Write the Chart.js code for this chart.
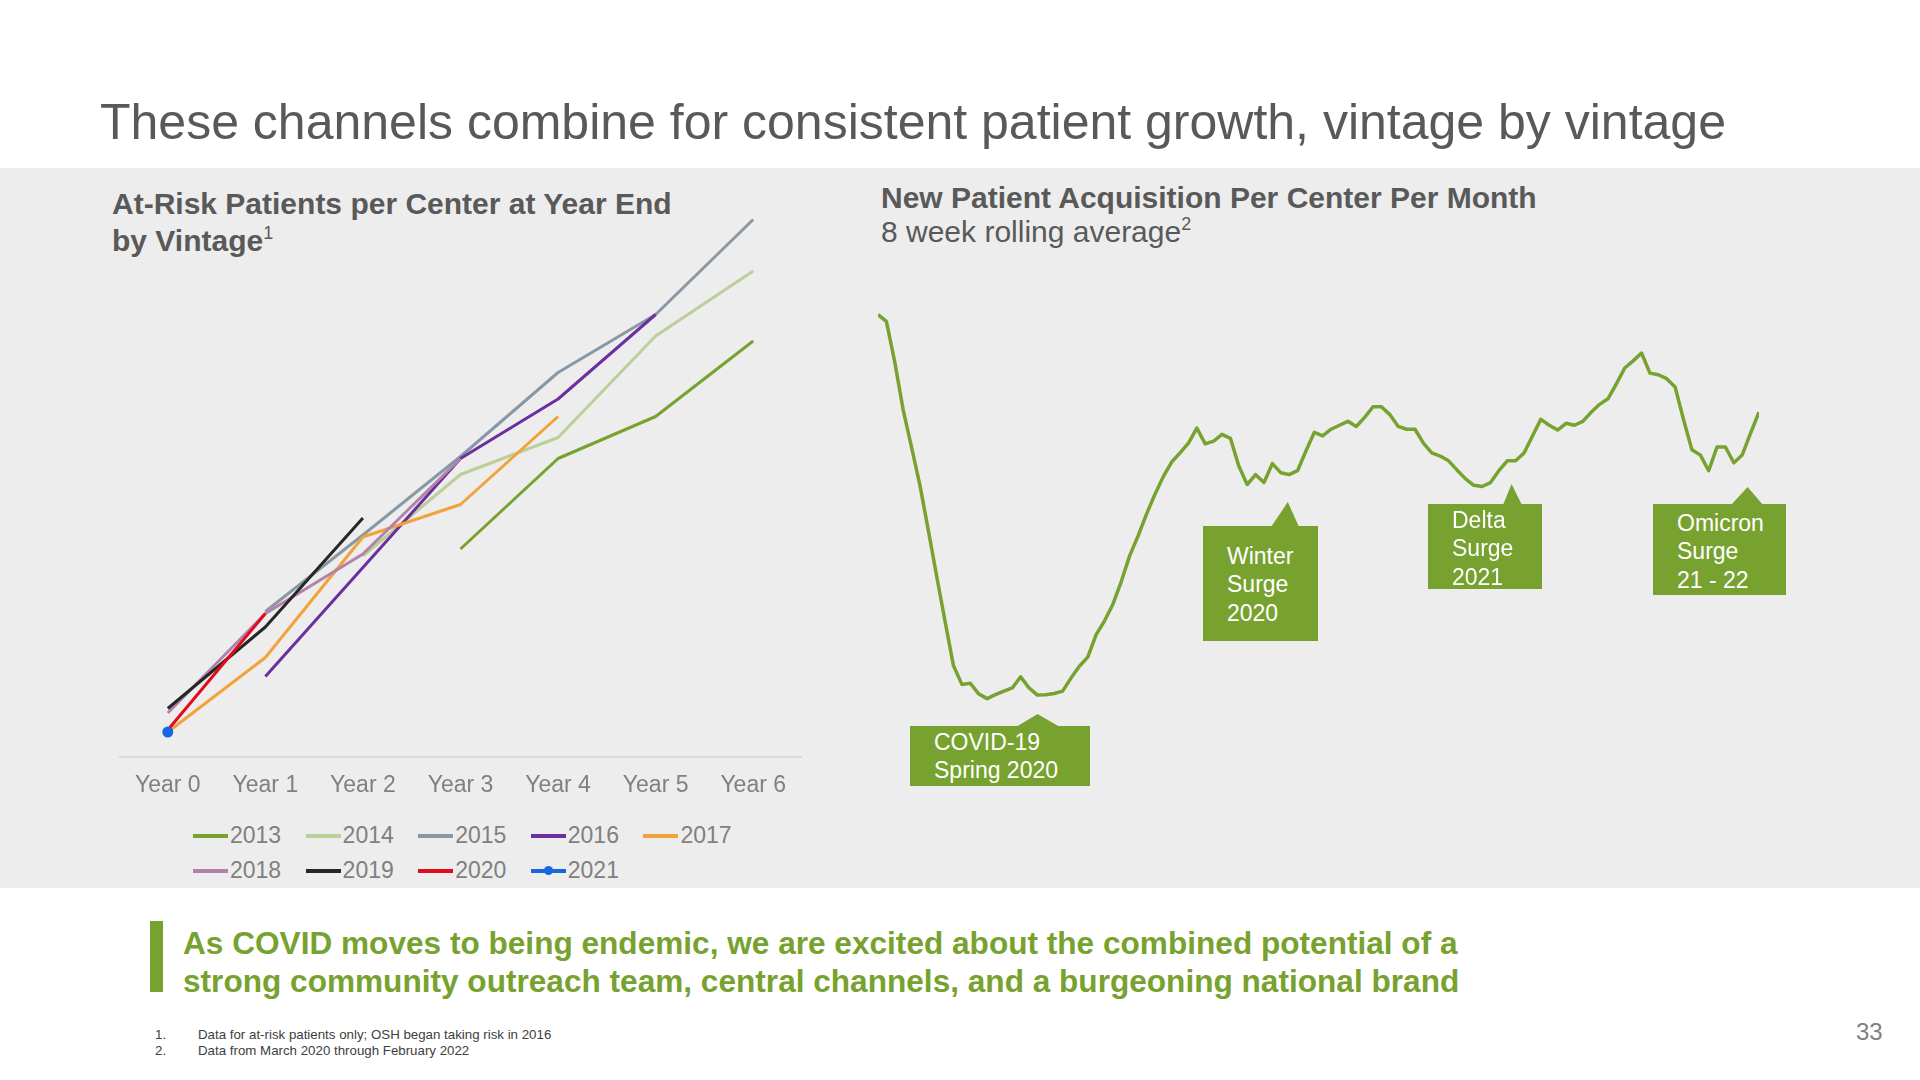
<!DOCTYPE html>
<html>
<head>
<meta charset="utf-8">
<script src="https://cdn.jsdelivr.net/npm/chart.js@4.4.1/dist/chart.umd.min.js"></script>
<style>
  body { margin: 0; width: 1920px; height: 1080px; background: #fff; position: relative; overflow: hidden;
         font-family: "Liberation Sans", Arial, sans-serif; }
  .abs { position: absolute; white-space: nowrap; }
  #band { left: 0; top: 168px; width: 1920px; height: 720px; background: #ededed; }
  #title { left: 100px; top: 92px; font-size: 50px; line-height: 60px; color: #595959; }
  .sub { font-size: 30px; color: #595959; }
  .sup { font-size: 18px; position: relative; top: -12px; font-weight: normal; }
  .call { background: #78a22f; }
  .callText { color: #fff; font-size: 23px; line-height: 28.3px; }
  .tri { background: #78a22f; }
  #legend { left: 193px; top: 818px; display: grid; grid-template-columns: repeat(5, 112.6px); }
  .item { height: 35px; line-height: 35px; display: flex; align-items: center; font-size: 23px; color: #808080; }
  .mark { width: 35px; height: 4px; margin-right: 2px; position: relative; }
  .dot { position: absolute; left: 13px; top: -2.5px; width: 9px; height: 9px; border-radius: 50%; }
  #bar { left: 150px; top: 921px; width: 13px; height: 71px; background: #78a22f; }
  #msg { left: 183px; top: 924px; font-size: 31.6px; line-height: 38px; font-weight: bold; color: #78a22f; }
  .foot { font-size: 13.3px; color: #404040; line-height: 16px; }
  #page { left: 1856px; top: 1017px; font-size: 24px; color: #808080; line-height: 30px; }
</style>
</head>
<body>
<div id="band" class="abs"></div>
<div id="title" class="abs">These channels combine for consistent patient growth, vintage by vintage</div>

<div class="abs sub" style="left:112px; top:186px; line-height:36.7px; font-weight:bold;">At-Risk Patients per Center at Year End<br>by Vintage<span class="sup">1</span></div>
<div class="abs sub" style="left:881px; top:181px; line-height:34.3px;"><b>New Patient Acquisition Per Center Per Month</b><br>8 week rolling average<span class="sup">2</span></div>

<canvas id="vintage" class="abs" width="683" height="650" style="left:119px; top:157px;"></canvas>
<div id="legend" class="abs"></div>

<canvas id="acq" class="abs" width="881" height="632" style="left:878px; top:210px;"></canvas>

<!-- callouts -->
<div class="abs tri" style="left:1016px; top:714px; width:44px; height:13px; clip-path: polygon(0 100%, 49% 0, 100% 100%);"></div>
<div class="abs call" style="left:910px; top:726px; width:180px; height:60px;"></div>
<div class="abs callText" style="left:934px; top:728px;">COVID-19<br>Spring 2020</div>

<div class="abs tri" style="left:1271px; top:502px; width:28px; height:25px; clip-path: polygon(0 100%, 60% 0, 100% 100%);"></div>
<div class="abs call" style="left:1203px; top:526px; width:115px; height:115px;"></div>
<div class="abs callText" style="left:1227px; top:542px;">Winter<br>Surge<br>2020</div>

<div class="abs tri" style="left:1503px; top:484px; width:19px; height:21px; clip-path: polygon(0 100%, 45% 0, 100% 100%);"></div>
<div class="abs call" style="left:1428px; top:504px; width:114px; height:85px;"></div>
<div class="abs callText" style="left:1452px; top:506px;">Delta<br>Surge<br>2021</div>

<div class="abs tri" style="left:1731px; top:487px; width:32px; height:18px; clip-path: polygon(0 100%, 52% 0, 100% 100%);"></div>
<div class="abs call" style="left:1653px; top:504px; width:133px; height:91px;"></div>
<div class="abs callText" style="left:1677px; top:509px;">Omicron<br>Surge<br>21 - 22</div>

<div id="bar" class="abs"></div>
<div id="msg" class="abs">As COVID moves to being endemic, we are excited about the combined potential of a<br>strong community outreach team, central channels, and a burgeoning national brand</div>

<div class="abs foot" style="left:155px; top:1027px;">1.</div>
<div class="abs foot" style="left:198px; top:1027px;">Data for at-risk patients only; OSH began taking risk in 2016</div>
<div class="abs foot" style="left:155px; top:1043px;">2.</div>
<div class="abs foot" style="left:198px; top:1043px;">Data from March 2020 through February 2022</div>
<div id="page" class="abs">33</div>

<script>
Chart.defaults.font.family = '"Liberation Sans", Arial, sans-serif';

// left chart: at-risk patients per center, by vintage
const years = ['Year 0', 'Year 1', 'Year 2', 'Year 3', 'Year 4', 'Year 5', 'Year 6'];
const vintages = ['2013', '2014', '2015', '2016', '2017', '2018', '2019', '2020', '2021'];
const vintageColors = ['#78a22f', '#bccf9b', '#8798a6', '#6b2fa0', '#f2a23a', '#b283aa', '#262626', '#e00b1c', '#1768e0'];
const v2013 = [null, null, null, 416, 597, 681, 832];
const v2014 = [null, null, 402, 565, 639, 842, 972];
const v2015 = [null, 291, 444, 601, 769, 885, 1075];
const v2016 = [null, 161, 379, 597, 716, 885, null];
const v2017 = [50, 199, 440, 505, 681, null, null];
const v2018 = [88, 287, 406, 597, null, null, null];
const v2019 = [97, 260, 478, null, null, null, null];
const v2020 = [54, 287, null, null, null, null, null];
const v2021 = [50, null, null, null, null, null, null];
const vintageValues = [v2013, v2014, v2015, v2016, v2017, v2018, v2019, v2020, v2021];

// right chart: new patients per center per month, 8 week rolling average (weekly, Mar 2020 - Feb 2022)
const acqValues = [13.35, 13.18, 12.15, 10.94, 9.99, 9.03, 7.89, 6.72, 5.58, 4.46, 3.99, 4.02, 3.75, 3.63, 3.73,
  3.82, 3.90, 4.18, 3.90, 3.72, 3.73, 3.76, 3.82, 4.15, 4.45, 4.68, 5.25, 5.60, 6.02, 6.60, 7.25, 7.75, 8.30,
  8.80, 9.25, 9.62, 9.85, 10.10, 10.48, 10.08, 10.15, 10.32, 10.22, 9.52, 9.05, 9.30, 9.10, 9.58, 9.35, 9.30,
  9.40, 9.90, 10.37, 10.28, 10.45, 10.55, 10.65, 10.52, 10.75, 11.02, 11.02, 10.82, 10.52, 10.45, 10.45, 10.10,
  9.85, 9.77, 9.65, 9.42, 9.20, 9.03, 9.00, 9.10, 9.40, 9.65, 9.65, 9.85, 10.28, 10.70, 10.55, 10.43, 10.60,
  10.55, 10.65, 10.88, 11.08, 11.22, 11.60, 12.00, 12.18, 12.38, 11.87, 11.83, 11.73, 11.52, 10.70, 9.93,
  9.80, 9.40, 10.00, 10.00, 9.60, 9.80, 10.35, 10.88];
const weekLabels = acqValues.map((v, i) => 'Week ' + (i + 1));

const vintageChart = new Chart(document.getElementById('vintage'), {
  type: 'line',
  data: {
    labels: years,
    datasets: vintages.map((name, i) => ({
      label: name,
      data: vintageValues[i],
      borderColor: vintageColors[i],
      backgroundColor: vintageColors[i],
      borderWidth: 3,
      pointRadius: name === '2021' ? 4 : 0,
      borderJoinStyle: 'round',
      order: vintages.length - i
    }))
  },
  options: {
    responsive: false,
    animation: false,
    clip: false,
    layout: { padding: 0, autoPadding: false },
    plugins: { legend: { display: false }, tooltip: { enabled: false } },
    scales: {
      x: {
        offset: true,
        grid: { display: false, drawTicks: false },
        border: { display: true, color: '#d9d9d9', width: 2 },
        ticks: { color: '#808080', font: { size: 23 }, padding: 15 },
        afterFit: (s) => { s.height = 50; }
      },
      y: { display: false, min: 0, max: 1200 }
    }
  }
});

// legend laid out like the slide: rows aligned left inside a centred block
const legendEl = document.getElementById('legend');
vintageChart.data.datasets.forEach((ds) => {
  const item = document.createElement('div');
  item.className = 'item';
  const mark = document.createElement('span');
  mark.className = 'mark';
  mark.style.background = ds.borderColor;
  if (ds.pointRadius > 0) {
    const dot = document.createElement('span');
    dot.className = 'dot';
    dot.style.background = ds.borderColor;
    mark.appendChild(dot);
  }
  item.appendChild(mark);
  item.appendChild(document.createTextNode(ds.label));
  legendEl.appendChild(item);
});

new Chart(document.getElementById('acq'), {
  type: 'line',
  data: {
    labels: weekLabels,
    datasets: [{
      data: acqValues,
      borderColor: '#78a22f',
      borderWidth: 3.5,
      pointRadius: 0,
      borderJoinStyle: 'round'
    }]
  },
  options: {
    responsive: false,
    animation: false,
    clip: false,
    layout: { padding: 0, autoPadding: false },
    plugins: { legend: { display: false }, tooltip: { enabled: false } },
    scales: {
      x: { display: false },
      y: { display: false, min: 0, max: 16 }
    }
  }
});
</script>
</body>
</html>
